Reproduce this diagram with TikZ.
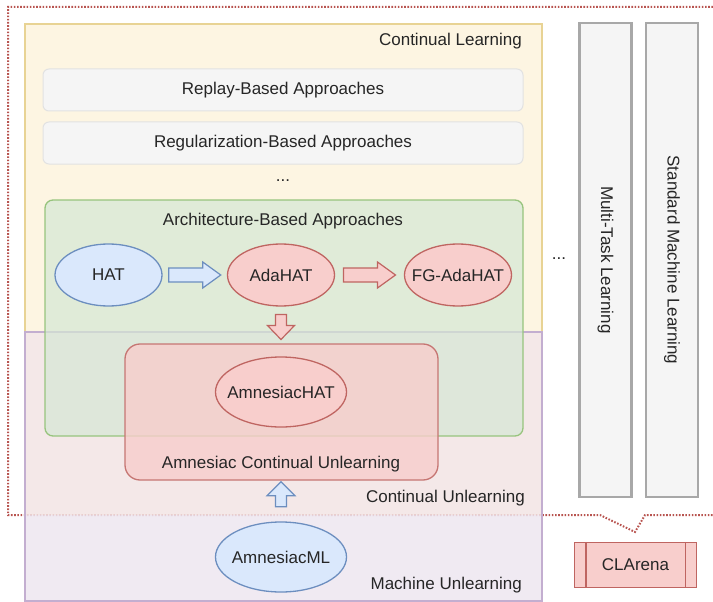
\documentclass[tikz,border=0pt]{standalone}
\usepackage{fontspec}
\setmainfont{Liberation Sans}
\usepackage{xcolor}
\usetikzlibrary{positioning, calc, shapes.geometric}

\definecolor{clfill}{HTML}{FDF5E2}
\definecolor{cldraw}{HTML}{E8D394}
\definecolor{cufill}{HTML}{F2E4E4}
\definecolor{mufill}{HTML}{EDE6F0}
\definecolor{mudraw}{HTML}{C3AED0}
\definecolor{greyfill}{HTML}{F5F5F5}
\definecolor{greydraw}{HTML}{E2E2E2}
\definecolor{colfill}{HTML}{F5F5F5}
\definecolor{coldraw}{HTML}{A8A8A8}
\definecolor{grnfill}{HTML}{D5E8D4}
\definecolor{grndraw}{HTML}{97C47D}
\definecolor{redfill}{HTML}{F8CECC}
\definecolor{reddraw}{HTML}{B85450}
\definecolor{bluefill}{HTML}{DAE8FC}
\definecolor{bluedraw}{HTML}{6C8EBF}

\begin{document}
\begin{tikzpicture}[x=1pt, y=-1pt,
  txt/.style={font=\fontsize{17}{20}\selectfont, inner sep=0pt, text=black!85},
  approach/.style={draw=greydraw, fill=greyfill, line width=1pt, rounded corners=6pt, minimum width=480pt, minimum height=42pt, txt},
  method/.style={ellipse, draw, line width=1.3pt, minimum width=107pt, minimum height=62pt, txt, inner sep=-12pt},
  redm/.style={method, fill=redfill, draw=reddraw!90},
  bluem/.style={method, fill=bluefill, draw=bluedraw},
  bluearrow/.style={fill=bluefill, draw=bluedraw, line width=1.2pt, line join=miter},
  redarrow/.style={fill=redfill, draw=reddraw!90, line width=1.2pt, line join=miter},
  column/.style={draw=coldraw, fill=colfill, line width=2.4pt, minimum width=52pt, minimum height=474pt, inner sep=0pt}
]
  \useasboundingbox (0,0) rectangle (713,602);

  % Red dotted frame
  \draw[reddraw, dash pattern=on 1.6pt off 1.6pt, line width=2pt] (713,7) -- (8,7) -- (8,515) -- (600,515) -- (635,532) -- (645,515) -- (713,515);

  % Continual Learning
  \fill[clfill] (25,24) rectangle (542,332);
  \draw[cldraw, line width=2pt] (25,332) -- (25,24) -- (542,24) -- (542,332);
  \node[txt, anchor=east] (cl) at (522,41) {Continual Learning};

  % Continual / Machine Unlearning
  \fill[cufill, fill opacity=0.85] (25,332) rectangle (542,515);
  \fill[mufill, fill opacity=0.85] (25,515) rectangle (542,601);
  \draw[mudraw, line width=2pt] (25,601) rectangle (542,332);
  \node[txt, anchor=east] (cu) at (525,498) {Continual Unlearning};
  \node[txt, anchor=east] (mu) at (522,585) {Machine Unlearning};

  % Other approaches
  \node[approach] (replay) at (283,90) {Replay-Based Approaches};
  \node[approach, below=10pt of replay] (reg) {Regularization-Based Approaches};
  \node[txt] (dots) at (283,181) {...};

  % Architecture-Based Approaches
  \draw[grndraw, fill=grnfill, fill opacity=0.7, line width=1.3pt, rounded corners=8pt] (45,200) rectangle (523,436);
  \node[txt] (arch) at (283,221) {Architecture-Based Approaches};

  \node[bluem] (hat) at (108.5,275) {HAT};
  \node[redm] (ada) at (281,275) {AdaHAT};
  \node[redm] (fg) at (458,275) {FG-AdaHAT};

  % Amnesiac Continual Unlearning
  \draw[reddraw!80, fill=redfill, fill opacity=0.8, line width=1.3pt, rounded corners=15pt] (125,344) rectangle (438,480);
  \node[txt] (acu) at (281,464) {Amnesiac Continual Unlearning};
  \node[redm, minimum width=131pt, minimum height=70pt] (ahat) at (281,392) {AmnesiacHAT};
  \node[bluem, minimum width=131pt, minimum height=70pt] (aml) at (281,557) {AmnesiacML};

  % Block arrows
  \draw[bluearrow] ($(hat.east)!0.5!(ada.west)$) ++(-26,-7) -- ++(34,0) -- ++(0,-6) -- ++(18,13) -- ++(-18,13) -- ++(0,-6) -- ++(-34,0) -- cycle;
  \draw[redarrow] ($(ada.east)!0.5!(fg.west)$) ++(-26,-7) -- ++(34,0) -- ++(0,-6) -- ++(18,13) -- ++(-18,13) -- ++(0,-6) -- ++(-34,0) -- cycle;
  \draw[redarrow] ($(ada.south)!0.5!(ahat.north)$) ++(-5.5,-17) -- ++(0,11) -- ++(-8,0) -- ++(13.5,14) -- ++(13.5,-14) -- ++(-8,0) -- ++(0,-11) -- cycle;
  \draw[bluearrow] ($(acu.south)!0.5!(aml.north)$) ++(-5.5,10) -- ++(0,-11) -- ++(-8.5,0) -- ++(14,-14) -- ++(14,14) -- ++(-8.5,0) -- ++(0,11) -- cycle;

  % Other learning settings
  \node[txt] (more) at (559,259) {...};
  \node[column] (mtl) at (605.5,260) {};
  \node[txt, rotate=-90] at (mtl) {Multi-Task Learning};
  \node[column] (sml) at (672,260) {};
  \node[txt, rotate=-90] at (sml) {Standard Machine Learning};

  % CLArena
  \node[draw=reddraw!90, fill=redfill, line width=1.3pt, minimum width=122pt, minimum height=45pt, txt] (arena) at (635.5,565) {CLArena};
  \draw[reddraw!90, line width=1.3pt] ([xshift=12pt]arena.north west) -- ([xshift=12pt]arena.south west);
  \draw[reddraw!90, line width=1.3pt] ([xshift=-12pt]arena.north east) -- ([xshift=-12pt]arena.south east);

\end{tikzpicture}
\end{document}
